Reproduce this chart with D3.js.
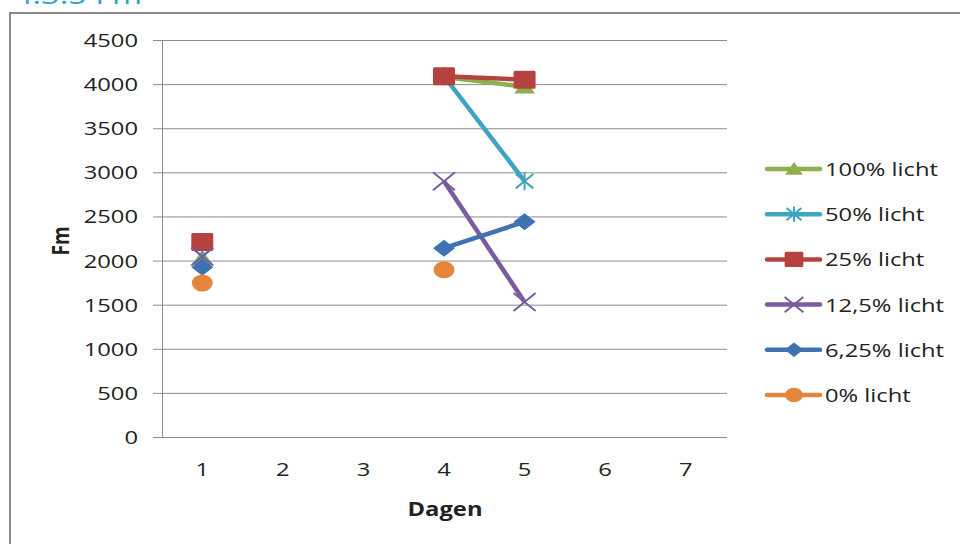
<!DOCTYPE html>
<html><head><meta charset="utf-8">
<script src="https://cdn.jsdelivr.net/npm/d3@7"></script>
<style>body{margin:0;background:#fff}svg{display:block}text{font-family:"Open Sans",sans-serif;fill:#222}</style>
</head><body><svg id="c" width="960" height="544"></svg>
<script>
const days = [1,2,3,4,5,6,7];
const yTicks = [0,500,1000,1500,2000,2500,3000,3500,4000,4500];
const seriesNames = ["100% licht","50% licht","25% licht","12,5% licht","6,25% licht","0% licht"];
const v100  = [2030,null,null,4080,3970,null,null];
const v50   = [2050,null,null,4090,2900,null,null];
const v25   = [2210,null,null,4090,4050,null,null];
const v12_5 = [2045,null,null,2900,1530,null,null];
const v6_25 = [1925,null,null,2140,2440,null,null];
const v0    = [1745,null,null,1895,null,null,null];
const seriesValues = [v100,v50,v25,v12_5,v6_25,v0];
const colors = ["#8CB04C","#3FA4C0","#B6423F","#7A5B9D","#3E72B0","#E3853A"];
const markers = ["triangle","asterisk","square","x","diamond","circle"];

const svg = d3.select("#c");
const SX = 1.25;
const x = d3.scaleBand().domain(days).range([162,726]);
const y = d3.scaleLinear().domain([0,4500]).range([437,40]);

// border + title
svg.append("path").attr("d","M10,560 V13 H962").attr("fill","none").attr("stroke","#8a8a8a").attr("stroke-width",2);
svg.append("text").attr("transform","translate(14,4) scale(1.25,1)").attr("font-size",26).style("fill","#2FA3C6").text("4.3.5  Fm");

// gridlines
const g = svg.append("g");
g.selectAll("line.grid").data(yTicks).join("line")
  .attr("x1",153).attr("x2",727).attr("y1",d=>y(d)+0.5).attr("y2",d=>y(d)+0.5)
  .attr("stroke","#8c8c8c").attr("stroke-width",1);
g.append("line").attr("x1",162.5).attr("x2",162.5).attr("y1",y(4500)).attr("y2",y(0)+0.5).attr("stroke","#8c8c8c");

// y labels
g.selectAll("text.yl").data(yTicks).join("text")
  .attr("transform",d=>`translate(138,${y(d)+7}) scale(${SX},1)`)
  .attr("text-anchor","end").attr("font-size",19).text(d=>d);
// x labels
g.selectAll("text.xl").data(days).join("text")
  .attr("transform",d=>`translate(${x(d)+x.bandwidth()/2},476) scale(${SX},1)`)
  .attr("text-anchor","middle").attr("font-size",19).text(d=>d);
svg.append("text").attr("transform",`translate(445,516) scale(${SX},1)`).attr("text-anchor","middle")
  .attr("font-size",19).attr("font-weight","bold").text("Dagen");
svg.append("text").attr("transform","translate(69,241) rotate(-90) scale(1,1.25)").attr("text-anchor","middle")
  .attr("font-size",19).attr("font-weight","bold").text("Fm");

function marker(sel,type,color,cx,cy,s){
  const w = 11*s, h = 9*s;
  if(type==="square"){
    sel.append("rect").attr("x",cx-w).attr("y",cy-h).attr("width",2*w).attr("height",2*h).attr("rx",1.5).attr("fill",color);
  } else if(type==="circle"){
    sel.append("ellipse").attr("cx",cx).attr("cy",cy).attr("rx",w*0.95).attr("ry",h*0.95).attr("fill",color);
  } else if(type==="diamond"){
    sel.append("path").attr("d",`M${cx},${cy-h*0.95}L${cx+w},${cy}L${cx},${cy+h*0.95}L${cx-w},${cy}Z`).attr("fill",color);
  } else if(type==="triangle"){
    sel.append("path").attr("d",`M${cx},${cy-h*0.9}L${cx+w*0.95},${cy+h*0.75}L${cx-w*0.95},${cy+h*0.75}Z`).attr("fill",color);
  } else if(type==="x"){
    sel.append("path").attr("d",`M${cx-w},${cy-h}L${cx+w},${cy+h}M${cx-w},${cy+h}L${cx+w},${cy-h}`)
      .attr("stroke",color).attr("stroke-width",2).attr("fill","none");
  } else if(type==="asterisk"){
    sel.append("path").attr("d",`M${cx-w*0.8},${cy-h*0.8}L${cx+w*0.8},${cy+h*0.8}M${cx-w*0.8},${cy+h*0.8}L${cx+w*0.8},${cy-h*0.8}M${cx},${cy-h}L${cx},${cy+h}`)
      .attr("stroke",color).attr("stroke-width",2).attr("fill","none");
  }
}

const line = d3.line().defined(d=>d.v!=null).x(d=>x(d.day)+x.bandwidth()/2).y(d=>y(d.v));
seriesValues.forEach((vals,i)=>{
  const pts = days.map((d,j)=>({day:d,v:vals[j]}));
  const sg = svg.append("g");
  sg.append("path").attr("d",line(pts)).attr("fill","none").attr("stroke",colors[i]).attr("stroke-width",4.5).attr("stroke-linejoin","round");
  pts.filter(p=>p.v!=null).forEach(p=>marker(sg,markers[i],colors[i],x(p.day)+x.bandwidth()/2,y(p.v),1));
});

// legend
const lg = svg.append("g");
seriesNames.forEach((n,i)=>{
  const ly = 169 + i*45.2;
  lg.append("line").attr("x1",767).attr("x2",820).attr("y1",ly).attr("y2",ly).attr("stroke",colors[i]).attr("stroke-width",4.5).attr("stroke-linecap","round");
  marker(lg,markers[i],colors[i],794,ly,0.85);
  lg.append("text").attr("transform",`translate(825,${ly+7}) scale(${SX},1)`).attr("font-size",19).text(n);
});
</script></body></html>
